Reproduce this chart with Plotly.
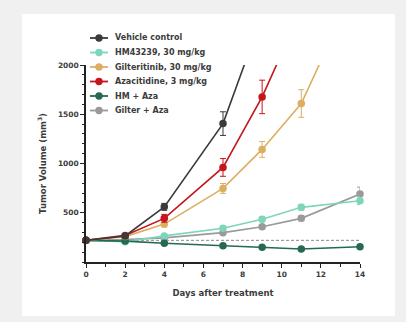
import plotly.graph_objects as go

# ---- data ----
days = [0, 2, 4, 7, 9, 11, 14]
series_names = ["Vehicle control", "HM43239, 30 mg/kg", "Gilteritinib, 30 mg/kg",
                "Azacitidine, 3 mg/kg", "HM + Aza", "Gilter + Aza"]
vehicle = [220, 264, 560, 1405, 2500, None, None]
hm43239 = [220, 205, 265, 342, 433, 555, 622]
gilteritinib = [220, 258, 385, 747, 1143, 1609, 2900]
azacitidine = [220, 270, 443, 960, 1676, 2560, None]
hm_aza = [220, 212, 190, 166, 149, 132, 155]
gilter_aza = [220, 228, 245, 298, 358, 443, 690]

vehicle_sem = [10, 15, 35, 120, 0, 0, 0]
hm43239_sem = [10, 12, 15, 20, 25, 30, 40]
gilteritinib_sem = [10, 15, 30, 50, 80, 140, 0]
azacitidine_sem = [10, 15, 40, 90, 170, 0, 0]
hm_aza_sem = [10, 10, 12, 12, 12, 12, 12]
gilter_aza_sem = [10, 10, 12, 15, 20, 25, 70]

baseline_volume = 220
y_max = 2000
y_tick_vals = [500, 1000, 1500, 2000]
x_tick_vals = [0, 2, 4, 6, 8, 10, 12, 14]

colors = ["#3a3a3a", "#7dd6bb", "#dcae62", "#c4161c", "#25694f", "#9a9a9a"]
values = [vehicle, hm43239, gilteritinib, azacitidine, hm_aza, gilter_aza]
sems = [vehicle_sem, hm43239_sem, gilteritinib_sem, azacitidine_sem, hm_aza_sem, gilter_aza_sem]

FONT = "DejaVu Sans"
TXT = "#3c3c3c"
AX = "#222222"

W, H = 406, 322
L, R, T, B = 86, 46, 65, 60
pw, ph = W - L - R, H - T - B


def px_x(p):
    return (p - L) / pw


def px_y(p):
    return (H - B - p) / ph


fig = go.Figure()

# dashed baseline
fig.add_trace(go.Scatter(
    x=[days[0], days[-1]], y=[baseline_volume, baseline_volume],
    mode="lines", line=dict(color="#8a8a8a", width=1, dash="3px,2px"),
    showlegend=False, hoverinfo="skip"))

draw_order = [5, 1, 4, 2, 3, 0]
for i in draw_order:
    vals = values[i]
    xs = [d for d, v in zip(days, vals) if v is not None]
    ys = [v for v in vals if v is not None]
    se = [s for s, v in zip(sems[i], vals) if v is not None]
    # line (clipped to plot area)
    fig.add_trace(go.Scatter(
        x=xs, y=ys, mode="lines", name=series_names[i],
        line=dict(color=colors[i], width=1.6), showlegend=False))
    # markers only for points inside the axis range (not clipped at edges)
    mx = [x for x, y in zip(xs, ys) if y <= y_max]
    my = [y for y in ys if y <= y_max]
    ms = [s for s, y in zip(se, ys) if y <= y_max]
    fig.add_trace(go.Scatter(
        x=mx, y=my, mode="markers", name=series_names[i],
        marker=dict(color=colors[i], size=7.5, symbol="circle"),
        error_y=dict(type="data", array=ms, color=colors[i], thickness=1, width=3),
        cliponaxis=False, showlegend=False))

fig.add_shape(type="rect", xref="paper", yref="paper",
              x0=px_x(22), x1=px_x(395), y0=px_y(316), y1=px_y(14),
              fillcolor="white", line=dict(width=0), layer="below")

# manual legend
for i, name in enumerate(series_names):
    cy = 38 + 14.5 * i
    fig.add_shape(type="line", xref="paper", yref="paper",
                  x0=px_x(90), x1=px_x(108), y0=px_y(cy), y1=px_y(cy),
                  line=dict(color=colors[i], width=1.8))
    fig.add_shape(type="circle", xref="paper", yref="paper",
                  x0=px_x(95.3), x1=px_x(102.7), y0=px_y(cy + 3.7), y1=px_y(cy - 3.7),
                  fillcolor=colors[i], line=dict(width=0))
    fig.add_annotation(xref="paper", yref="paper", x=px_x(113), y=px_y(cy),
                       xanchor="left", yanchor="middle", showarrow=False, text=name,
                       font=dict(family=FONT, size=8, color=TXT, weight="bold"))

fig.update_layout(
    width=W, height=H,
    margin=dict(l=L, r=R, t=T, b=B, autoexpand=False),
    paper_bgcolor="#f0f0f0", plot_bgcolor="rgba(0,0,0,0)",
    font=dict(family=FONT, color=TXT, size=8),
    showlegend=False,
    xaxis=dict(range=[0, 14], tickvals=x_tick_vals, showgrid=False, zeroline=False,
               automargin=False,
               showline=True, linecolor=AX, linewidth=1.5,
               ticks="outside", ticklen=4, tickwidth=1.2, tickcolor=AX,
               minor=dict(dtick=1, ticks="outside", ticklen=3, tickcolor=AX, tickwidth=1.2, showgrid=False),
               tickfont=dict(family=FONT, size=7.5, color=TXT, weight="bold"),
               title=dict(text="Days after treatment", standoff=12,
                          font=dict(family=FONT, size=8.5, color=TXT, weight="bold"))),
    yaxis=dict(range=[0, y_max], tickvals=y_tick_vals, showgrid=False, zeroline=False,
               automargin=False,
               showline=True, linecolor=AX, linewidth=1.5,
               ticks="outside", ticklen=4, tickwidth=1.2, tickcolor=AX,
               minor=dict(dtick=100, ticks="outside", ticklen=2, tickcolor=AX, tickwidth=1, showgrid=False),
               tickfont=dict(family=FONT, size=7.5, color=TXT, weight="bold"),
               title=dict(text="Tumor Volume (mm<sup>3</sup>)", standoff=10,
                          font=dict(family=FONT, size=8.5, color=TXT, weight="bold"))),
)

fig.write_html("out.html",
               config={"displayModeBar": False},
               post_script="document.body.style.margin='0';document.body.style.overflow='hidden';")
